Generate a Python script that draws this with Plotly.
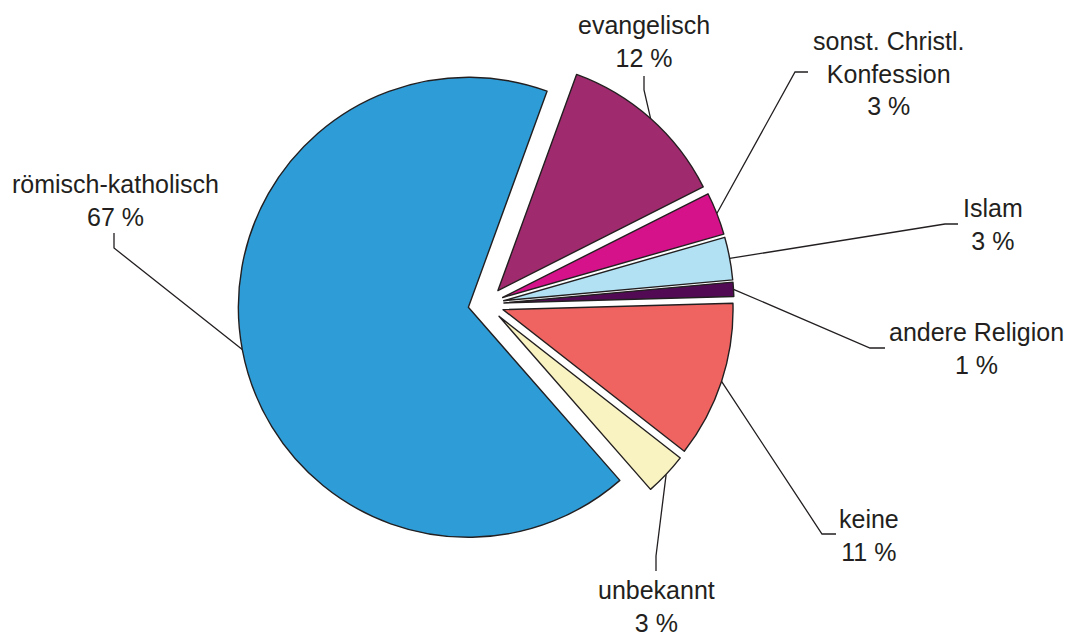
import math
import plotly.graph_objects as go

# --- data -------------------------------------------------------------
categories = [
    "evangelisch",
    "sonst. Christl.<br>Konfession",
    "Islam",
    "andere Religion",
    "keine",
    "unbekannt",
    "römisch-katholisch",
]
shares = [12, 3, 3, 1, 11, 3, 67]

# --- styling ----------------------------------------------------------
slice_colors = ["#A02A6E", "#D5128A", "#B2E1F4", "#520A55",
                "#EF6461", "#F8F3C0", "#2E9CD6"]
INK = "#231F20"
FONT = dict(family="Arial, Liberation Sans, sans-serif", size=25, color=INK)

W, H = 1070, 638
CX, CY = 486, 304          # pie centre in pixels
RADIUS = 230               # pie radius in pixels
PULL = 0.078               # explode offset (fraction of radius)
ROTATION = 20              # start angle of the first slice, clockwise from 12 o'clock

# label centres and the two leader-line points next to each label (pixels)
label_pos = [(644, 41), (888, 73), (993, 224), (976, 348),
             (869, 535), (656, 606), (115, 200)]
leader_start = [(644, 76), (808, 72), (958, 224), (885, 348),
                (836, 534), (656, 571), (114, 233)]
leader_elbow = [(644, 90), (795, 72), (945, 224), (870, 348),
                (822, 534), (656, 556), (114, 248)]

# --- pie geometry -----------------------------------------------------
half = RADIUS * (1 + PULL)
dom_x = [(CX - half) / W, (CX + half) / W]
dom_y = [1 - (CY + half) / H, 1 - (CY - half) / H]

total = float(sum(shares))
mid_angles = []
acc = 0.0
for v in shares:
    mid_angles.append(ROTATION + 360.0 * (acc + v / 2.0) / total)
    acc += v

fig = go.Figure()

fig.add_trace(go.Pie(
    values=shares,
    labels=categories,
    sort=False,
    direction="clockwise",
    rotation=ROTATION,
    pull=[PULL] * len(shares),
    marker=dict(colors=slice_colors, line=dict(color=INK, width=1.4)),
    textinfo="none",
    hoverinfo="skip",
    showlegend=False,
    domain=dict(x=dom_x, y=dom_y),
))

# leader lines: from each label to the outer edge of its (pulled) slice
lx, ly = [], []
for ang, s, e in zip(mid_angles, leader_start, leader_elbow):
    a = math.radians(ang)
    rr = RADIUS * (1 + PULL)
    ax_ = CX + rr * math.sin(a)
    ay_ = CY - rr * math.cos(a)
    lx += [s[0], e[0], ax_, None]
    ly += [s[1], e[1], ay_, None]

fig.add_trace(go.Scatter(
    x=lx, y=ly, mode="lines",
    line=dict(color=INK, width=1.3),
    hoverinfo="skip", showlegend=False,
))

for name, v, (tx, ty) in zip(categories, shares, label_pos):
    fig.add_annotation(
        x=tx, y=ty, xref="x", yref="y",
        text=f"{name}<br>{v} %",
        showarrow=False, align="center",
        xanchor="center", yanchor="middle",
        font=FONT,
    )

fig.update_layout(
    width=W, height=H,
    margin=dict(l=0, r=0, t=0, b=0),
    paper_bgcolor="white", plot_bgcolor="rgba(0,0,0,0)",
    xaxis=dict(range=[0, W], visible=False, fixedrange=True),
    yaxis=dict(range=[H, 0], visible=False, fixedrange=True),
)

fig.write_html("out.html")
